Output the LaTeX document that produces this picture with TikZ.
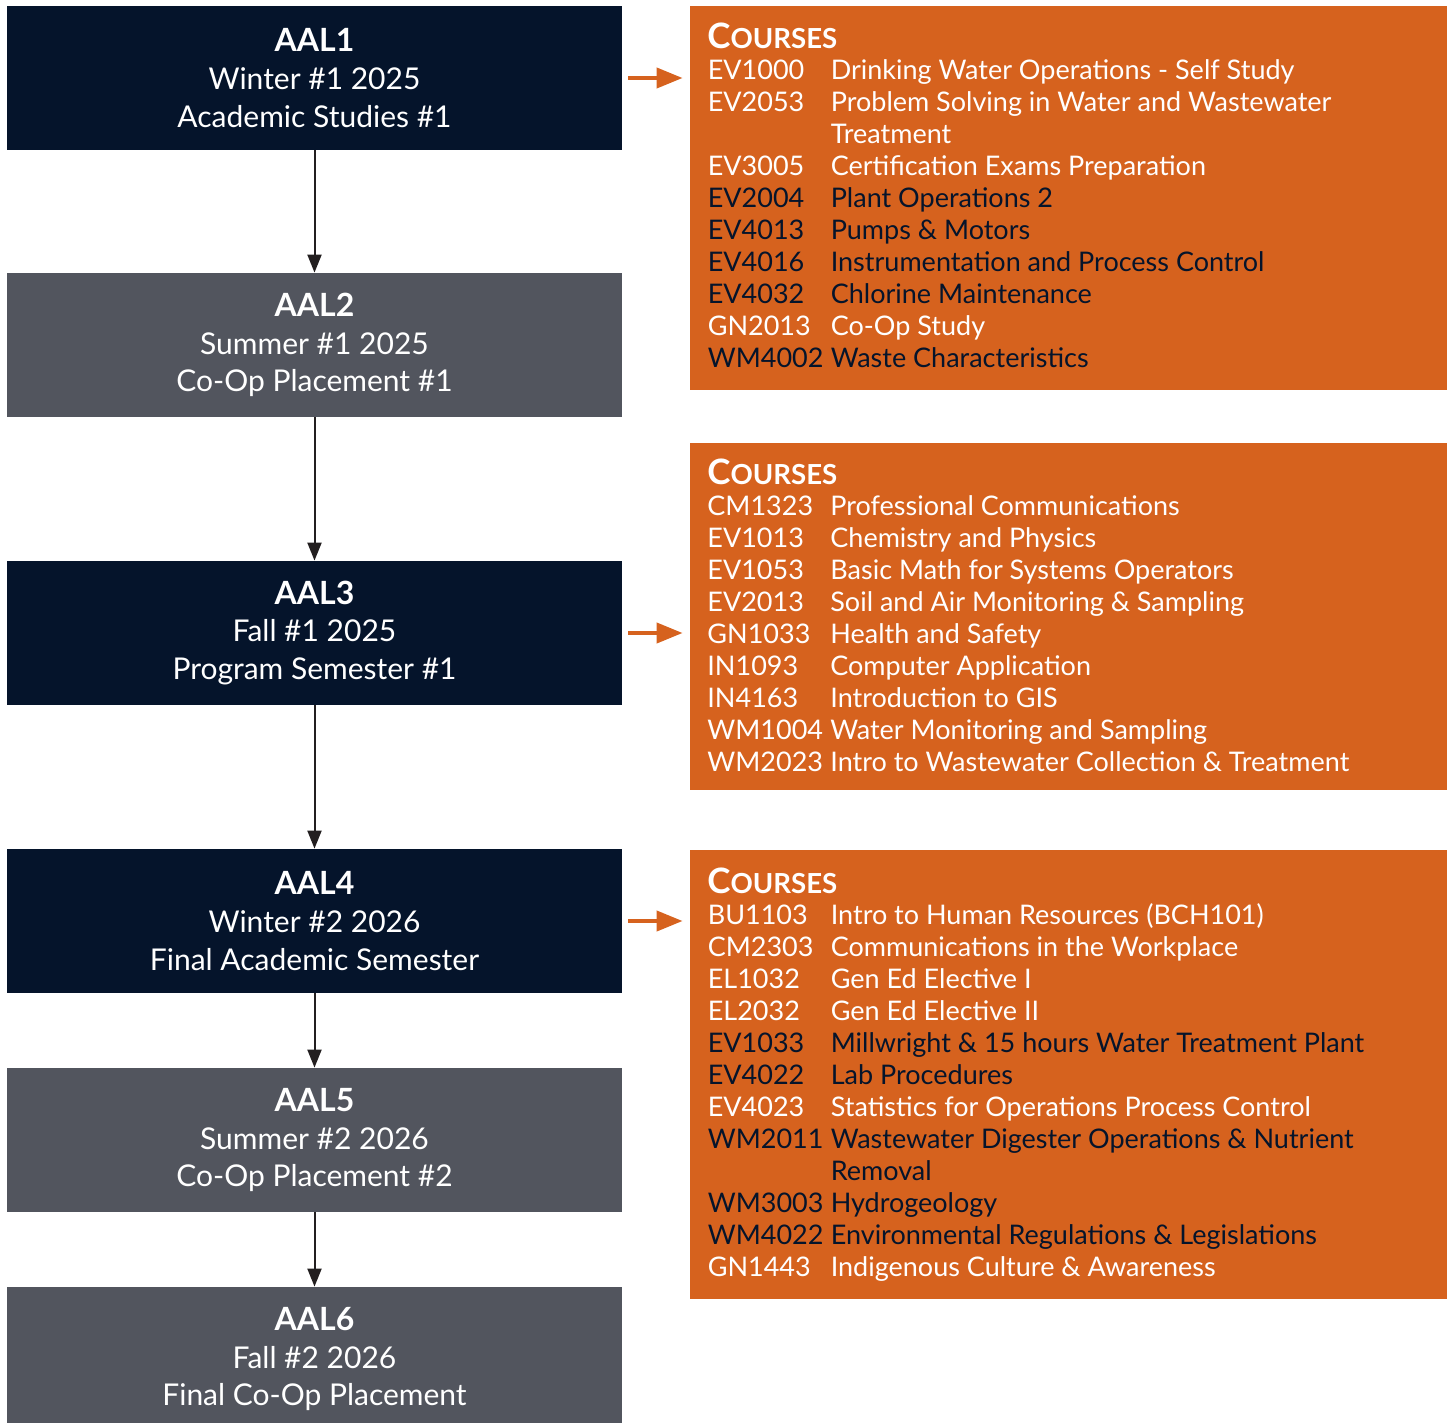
\documentclass[tikz,border=0pt]{standalone}
\usepackage{fontspec}
\setmainfont{Lato}
\usepackage{xcolor}
\usetikzlibrary{arrows.meta,
                matrix}
\definecolor{navy}{HTML}{05142B}
\definecolor{slate}{HTML}{52555E}
\definecolor{rust}{HTML}{D6621E}
\definecolor{ink}{HTML}{231F20}
\newcommand\crshead{{\fontsize{17.5}{16}\selectfont C}{\fontsize{13.8}{13}\selectfont OURSES}}

\begin{document}
\begin{tikzpicture}[x=0.5pt, y=-0.5pt,
every edge/.style = {draw, -{Triangle[length=9pt,width=7pt]}, line width=1pt, ink},
      feed/.style = {-{Triangle[length=13pt,width=10pt]}, line width=2pt, rust,
                     shorten <=3pt, shorten >=3.5pt},
      term/.style = {minimum width=307.5pt, minimum height=72pt, inner sep=0pt,
                     text=white, align=center, font=\fontsize{15}{18.8}\selectfont},
      acad/.style = {term, fill=navy},
      coop/.style = {term, fill=slate},
      list/.style = {fill=rust, minimum width=378.5pt, inner sep=0pt},
      head/.style = {anchor=west, inner sep=0pt, text=white, font=\bfseries},
        dk/.style = {nodes={text=navy}},
         M/.style = {matrix of nodes, anchor=north west, inner sep=0pt,
                     nodes = {inner sep=0pt, anchor=west, text=white,
                              text height=10pt, text depth=3pt, minimum height=16pt,
                              font=\fontsize{13.5}{16}\selectfont},
                     column 1/.style = {nodes={text width=61.5pt, align=left}},
                     row sep=0pt, column sep=0pt}
                    ]
\useasboundingbox (0,0) rectangle (1450,1423);

% terms
\node[acad] (aal1) at (314.5,78)   {\textbf{\fontsize{16}{18.8}\selectfont AAL1}\\Winter \#1 2025\\Academic Studies \#1};
\node[coop] (aal2) at (314.5,345)  {\textbf{\fontsize{16}{18.8}\selectfont AAL2}\\Summer \#1 2025\\Co-Op Placement \#1};
\node[acad] (aal3) at (314.5,633)  {\textbf{\fontsize{16}{18.8}\selectfont AAL3}\\Fall \#1 2025\\Program Semester \#1};
\node[acad] (aal4) at (314.5,921)  {\textbf{\fontsize{16}{18.8}\selectfont AAL4}\\Winter \#2 2026\\Final Academic Semester};
\node[coop] (aal5) at (314.5,1140) {\textbf{\fontsize{16}{18.8}\selectfont AAL5}\\Summer \#2 2026\\Co-Op Placement \#2};
\node[coop] (aal6) at (314.5,1359) {\textbf{\fontsize{16}{18.8}\selectfont AAL6}\\Fall \#2 2026\\Final Co-Op Placement};

% course lists
\node[list, minimum height=192pt]   (crs1) at (1068.5,198)    {};
\node[list, minimum height=173.5pt] (crs3) at (1068.5,616.5)  {};
\node[list, minimum height=224.5pt] (crs4) at (1068.5,1074.5) {};

\node[head] (h1) at (707,36)  {\crshead};
\node[head] (h3) at (707,472) {\crshead};
\node[head] (h4) at (707,881) {\crshead};

\matrix (m1) [M, row 5/.style=dk, row 6/.style=dk, row 7/.style=dk,
              row 8/.style=dk, row 10/.style=dk] at (707,56)
{
EV1000 & Drinking Water Operations - Self Study\\
EV2053 & Problem Solving in Water and Wastewater\\
       & Treatment\\
EV3005 & Certification Exams Preparation\\
EV2004 & Plant Operations 2\\
EV4013 & Pumps \& Motors\\
EV4016 & Instrumentation and Process Control\\
EV4032 & Chlorine Maintenance\\
GN2013 & Co-Op Study\\
WM4002 & Waste Characteristics\\
};

\matrix (m3) [M] at (707,492)
{
CM1323 & Professional Communications\\
EV1013 & Chemistry and Physics\\
EV1053 & Basic Math for Systems Operators\\
EV2013 & Soil and Air Monitoring \& Sampling\\
GN1033 & Health and Safety\\
IN1093 & Computer Application\\
IN4163 & Introduction to GIS\\
WM1004 & Water Monitoring and Sampling\\
WM2023 & Intro to Wastewater Collection \& Treatment\\
};

\matrix (m4) [M, row 5/.style=dk, row 6/.style=dk, row 8/.style=dk,
              row 9/.style=dk, row 10/.style=dk, row 11/.style=dk] at (707,901)
{
BU1103 & Intro to Human Resources (BCH101)\\
CM2303 & Communications in the Workplace\\
EL1032 & Gen Ed Elective I\\
EL2032 & Gen Ed Elective II\\
EV1033 & Millwright \& 15 hours Water Treatment Plant\\
EV4022 & Lab Procedures\\
EV4023 & Statistics for Operations Process Control\\
WM2011 & Wastewater Digester Operations \& Nutrient\\
       & Removal\\
WM3003 & Hydrogeology\\
WM4022 & Environmental Regulations \& Legislations\\
GN1443 & Indigenous Culture \& Awareness\\
};

% flow
\draw   (aal1) edge (aal2)
        (aal2) edge (aal3)
        (aal3) edge (aal4)
        (aal4) edge (aal5)
        (aal5) edge (aal6);
\draw   (aal1.east) edge[feed] (aal1.east -| crs1.west)
        (aal3.east) edge[feed] (aal3.east -| crs3.west)
        (aal4.east) edge[feed] (aal4.east -| crs4.west);
\end{tikzpicture}
\end{document}
